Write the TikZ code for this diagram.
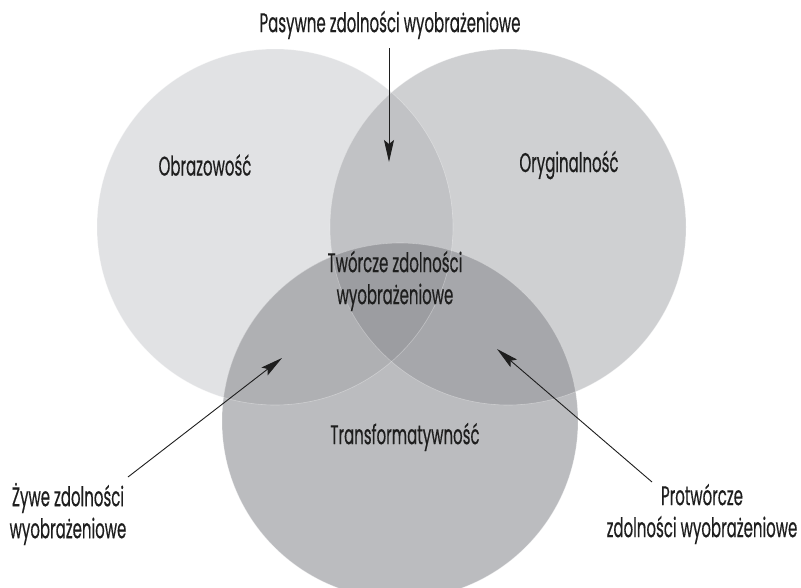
\documentclass[tikz,border=0pt]{standalone}
\usepackage{fontspec}
\setmainfont{Poppins}[FakeStretch=0.555,FakeBold=0.4]
\usetikzlibrary{arrows.meta}
\definecolor{cL}{RGB}{225,226,228}
\definecolor{cR}{RGB}{207,208,210}
\definecolor{cB}{RGB}{187,188,191}
\definecolor{cLR}{RGB}{193,194,197}
\definecolor{cLB}{RGB}{175,176,179}
\definecolor{cRB}{RGB}{166,167,171}
\definecolor{cLRB}{RGB}{156,157,161}
\definecolor{txt}{RGB}{30,30,30}
\tikzset{
  lbl/.style={font=\fontsize{27}{32}\selectfont, text=txt, align=center, inner sep=0pt},
  arr/.style={draw=txt, line width=0.9pt, -{Stealth[length=22pt,width=10pt,inset=4pt]}},
  edge line/.style={draw=white, draw opacity=0.35, line width=0.6pt}
}
\begin{document}
\begin{tikzpicture}[x=1pt,y=-1pt]
\useasboundingbox (0,0) rectangle (801,587);
\fill[white] (0,0) rectangle (801,587);
% circles
\coordinate (cl) at (275,227);
\coordinate (cr) at (508,227);
\coordinate (cb) at (400,421);
\fill[cL] (cl) circle[radius=178pt];
\fill[cR] (cr) circle[radius=178pt];
\fill[cB] (cb) circle[radius=178pt];
\begin{scope}
  \clip (cl) circle[radius=178pt];
  \fill[cLR] (cr) circle[radius=178pt];
  \fill[cLB] (cb) circle[radius=178pt];
\end{scope}
\begin{scope}
  \clip (cr) circle[radius=178pt];
  \fill[cRB] (cb) circle[radius=178pt];
  \clip (cb) circle[radius=178pt];
  \fill[cLRB] (cl) circle[radius=178pt];
\end{scope}
\draw[edge line] (cl) circle[radius=178pt];
\draw[edge line] (cr) circle[radius=178pt];
\draw[edge line] (cb) circle[radius=178pt];
% labels
\node[lbl] (pas) at (390,25) {Pasywne zdolności wyobrażeniowe};
\node[lbl] (obr) at (205,165) {Obrazowość};
\node[lbl] (ory) at (569,165) {Oryginalność};
\node[lbl] (tw) at (395,281) {Twórcze zdolności\\wyobrażeniowe};
\node[lbl] (tr) at (405,437) {Transformatywność};
\node[lbl] (zy) at (68,514) {Żywe zdolności\\wyobrażeniowe};
\node[lbl] (pro) at (702,514) {Protwórcze\\zdolności wyobrażeniowe};
% arrows
\coordinate (ptail) at (389,48);
\coordinate (phead) at (389,162);
\coordinate (ztail) at (128,477);
\coordinate (zhead) at (282,358);
\coordinate (rtail) at (652,482);
\coordinate (rhead) at (497,349);
\draw[arr] (ptail) -- (phead);
\draw[arr] (ztail) -- (zhead);
\draw[arr] (rtail) -- (rhead);
\end{tikzpicture}
\end{document}
